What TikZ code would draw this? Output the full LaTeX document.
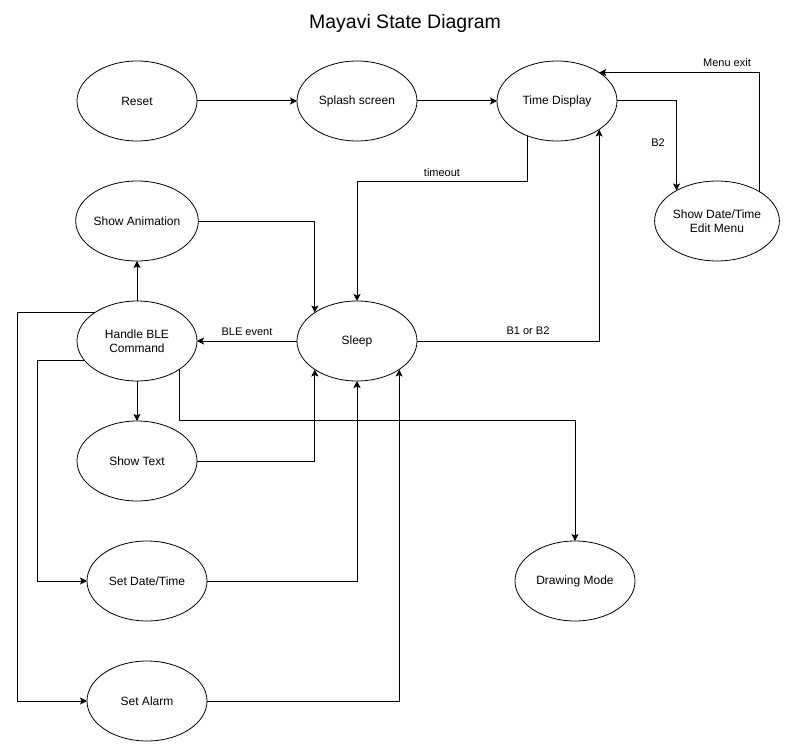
\documentclass[tikz,border=0pt]{standalone}
\usepackage{fontspec}
\setmainfont{Liberation Sans}
\usetikzlibrary{arrows.meta,shapes.geometric}

\begin{document}
\begin{tikzpicture}[
  x=1pt,
  y=-1pt,
  state/.style={draw, ellipse, line width=0.8pt, minimum width=120pt,
                minimum height=80pt, inner sep=0pt, outer sep=0pt,
                align=center, font=\fontsize{12}{14}\selectfont},
  edge/.style={line width=1pt, -{Stealth[length=7pt, width=7pt, inset=1.5pt]}},
  elabel/.style={font=\fontsize{11}{13}\selectfont, inner sep=0pt}
]
  \useasboundingbox (0,0) rectangle (788,752);

  % ---- title ------------------------------------------------------------
  \node[font=\fontsize{19.5}{22}\selectfont, inner sep=0pt] (title) at (405,23)
    {Mayavi State Diagram};

  % ---- states -----------------------------------------------------------
  \node[state] (reset)  at (137,101) {Reset};
  \node[state] (splash) at (357,101) {Splash screen};
  \node[state] (td)     at (557,101) {Time Display};
  \node[state] (edit)   at (717,221) {Show Date/Time\\Edit Menu};
  \node[state] (anim)   at (137,221) {Show Animation};
  \node[state] (ble)    at (137,341) {Handle BLE\\Command};
  \node[state] (sleep)  at (357,341) {Sleep};
  \node[state] (text)   at (137,461) {Show Text};
  \node[state] (setdt)  at (147,581) {Set Date/Time};
  \node[state] (drawm)  at (575,581) {Drawing Mode};
  \node[state] (alarm)  at (147,701) {Set Alarm};

  % ---- start up ---------------------------------------------------------
  \draw[edge] (reset) -- (splash);
  \draw[edge] (splash) -- (td);

  % ---- time display and its menu ---------------------------------------
  \draw[edge] (td.east) -| (edit.143);
  \node[elabel] (lb2) at (658,143) {B2};
  \draw[edge] (edit.34) |- (td.34);
  \node[elabel] (lexit) at (727,63) {Menu exit};

  % ---- sleep ------------------------------------------------------------
  \draw[edge] (td.230) -- ++(0,46) -| (sleep.north);
  \node[elabel] (ltimeout) at (442,173) {timeout};
  \draw[edge] (sleep.east) -| (td.326);
  \node[elabel] (lb12) at (528,331) {B1 or B2};
  \draw[edge] (sleep.west) -- (ble.east);
  \node[elabel] (lble) at (247,332) {BLE event};

  % ---- BLE commands -----------------------------------------------------
  \draw[edge] (ble.north) -- (anim.south);
  \draw[edge] (ble.south) -- (text.north);
  \draw[edge] (ble.201) -- ++(-48,0) |- (setdt.west);
  \draw[edge] (ble.146) -- ++(-77,0) |- (alarm.west);
  \draw[edge] (ble.326) -- ++(0,51) -| (drawm.north);

  % ---- back to sleep ----------------------------------------------------
  \draw[edge] (anim.east) -| (sleep.146);
  \draw[edge] (text.east) -| (sleep.214);
  \draw[edge] (setdt.east) -| (sleep.south);
  \draw[edge] (alarm.east) -| (sleep.326);
\end{tikzpicture}
\end{document}
